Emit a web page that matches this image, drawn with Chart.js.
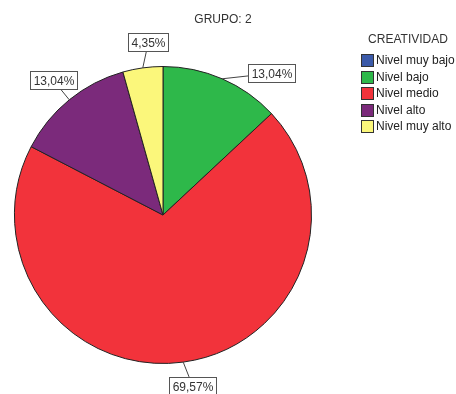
<!DOCTYPE html>
<html>
<head>
<meta charset="utf-8">
<script src="https://cdn.jsdelivr.net/npm/chart.js@4"></script>
<style>
  body { margin: 0; background: #fff; }
  #wrap { width: 456px; height: 394px; }
</style>
</head>
<body>
<div id="wrap"><canvas id="grafico"></canvas></div>
<script>
const titulo = 'GRUPO: 2';
const tituloLeyenda = 'CREATIVIDAD';
const categorias = ['Nivel muy bajo', 'Nivel bajo', 'Nivel medio', 'Nivel alto', 'Nivel muy alto'];
const porcentajes = [0, 13.04, 69.57, 13.04, 4.35];
const etiquetas = ['', '13,04%', '69,57%', '13,04%', '4,35%'];
const colores = ['#3b5aa9', '#2eb84a', '#f2333b', '#7b2a7b', '#fbf77b'];

const FUENTE = '12px "Liberation Sans", Arial, sans-serif';

// etiquetas con caja y linea guia
const pluginEtiquetas = {
  id: 'etiquetas',
  afterDatasetsDraw(chart, args, opts) {
    const ctx = chart.ctx;
    const meta = chart.getDatasetMeta(0);
    ctx.save();
    ctx.font = FUENTE;
    meta.data.forEach((arc, i) => {
      if (!porcentajes[i]) return;
      const { x, y, startAngle, endAngle, outerRadius } = arc.getProps(['x', 'y', 'startAngle', 'endAngle', 'outerRadius'], true);
      const medio = (startAngle + endAngle) / 2;
      const ang = medio + (opts.giro[i] || 0) * Math.PI / 180;
      const dist = outerRadius + opts.distancia[i];
      const px = x + Math.cos(medio) * outerRadius;
      const py = y + Math.sin(medio) * outerRadius;
      const cx = x + Math.cos(ang) * dist;
      const cy = y + Math.sin(ang) * dist;
      const texto = etiquetas[i];
      const w = Math.round(ctx.measureText(texto).width) + 6;
      const h = 18;
      // punto donde la linea toca la caja
      const dx = cx - px, dy = cy - py;
      const t = Math.min(Math.abs((w / 2) / (dx || 1e-6)), Math.abs((h / 2) / (dy || 1e-6)));
      const ex = cx - dx * Math.min(t, 1);
      const ey = cy - dy * Math.min(t, 1);
      ctx.strokeStyle = '#444';
      ctx.lineWidth = 1;
      ctx.beginPath();
      ctx.moveTo(px, py);
      ctx.lineTo(ex, ey);
      ctx.stroke();
      const bx = Math.round(cx - w / 2) + 0.5;
      const by = Math.round(cy - h / 2) + 0.5;
      ctx.fillStyle = '#fff';
      ctx.fillRect(bx, by, w, h);
      ctx.strokeStyle = '#555';
      ctx.strokeRect(bx, by, w, h);
      ctx.fillStyle = '#333';
      ctx.textAlign = 'center';
      ctx.textBaseline = 'middle';
      ctx.fillText(texto, bx + w / 2, by + h / 2 + 1);
    });
    ctx.restore();
  }
};

// titulo y leyenda a la derecha
const pluginLeyenda = {
  id: 'leyenda',
  afterDraw(chart, args, opts) {
    const ctx = chart.ctx;
    const x0 = chart.chartArea.right + opts.margen;
    ctx.save();
    ctx.font = FUENTE;
    ctx.fillStyle = '#333';
    ctx.textAlign = 'center';
    ctx.textBaseline = 'middle';
    ctx.fillText(titulo, opts.tituloX, opts.tituloY);
    ctx.fillText(tituloLeyenda, x0 + 47, opts.top);
    ctx.textAlign = 'left';
    categorias.forEach((cat, i) => {
      const yc = opts.top + 20 + i * 16.5;
      ctx.fillStyle = colores[i];
      ctx.fillRect(x0 + 0.5, Math.round(yc - 6) + 0.5, 12, 12);
      ctx.strokeStyle = '#333';
      ctx.lineWidth = 1;
      ctx.strokeRect(x0 + 0.5, Math.round(yc - 6) + 0.5, 12, 12);
      ctx.fillStyle = '#222';
      ctx.fillText(cat, x0 + 15, yc + 1);
    });
    ctx.restore();
  }
};

new Chart(document.getElementById('grafico'), {
  type: 'pie',
  data: {
    labels: categorias,
    datasets: [{
      data: porcentajes,
      backgroundColor: colores,
      borderColor: '#222',
      borderWidth: 1
    }]
  },
  options: {
    responsive: true,
    maintainAspectRatio: false,
    animation: false,
    layout: { padding: { left: 14, right: 144, top: 66, bottom: 30 } },
    plugins: {
      legend: { display: false },
      tooltip: { enabled: false },
      title: { display: false },
      etiquetas: { distancia: [0, 30, 25, 25, 25], giro: [0, 14, -2, 0, 3] },
      leyenda: { margen: 49, top: 40, tituloX: 223, tituloY: 20 }
    }
  },
  plugins: [pluginEtiquetas, pluginLeyenda]
});
</script>
</body>
</html>
